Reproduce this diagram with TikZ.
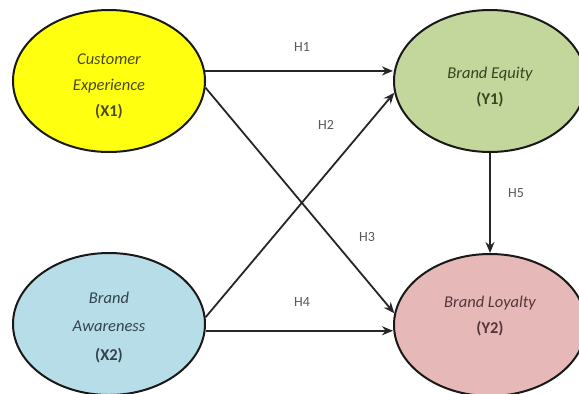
\documentclass[tikz,border=0pt]{standalone}
\usepackage{fontspec}
\setmainfont{Carlito}
\usetikzlibrary{shapes.geometric,arrows.meta}
\definecolor{xyellow}{HTML}{FFFF10}
\definecolor{ygreen}{HTML}{C3D69B}
\definecolor{xblue}{HTML}{B7DDE8}
\definecolor{ypink}{HTML}{E6B9B8}
\definecolor{tyellow}{HTML}{4A4A1E}
\definecolor{tgreen}{HTML}{35461F}
\definecolor{tblue}{HTML}{34434E}
\definecolor{tpink}{HTML}{54363A}
\begin{document}
\begin{tikzpicture}[x=1pt,y=-1pt,
  latent/.style={ellipse,draw=black!90,line width=2pt,minimum width=192pt,minimum height=142pt,
    inner sep=0pt,align=center,font=\fontsize{16.5}{26}\selectfont\itshape},
  hpath/.style={draw=black!85,line width=1.8pt,-{Stealth[length=11pt,width=9pt]}},
  hyp/.style={font=\fontsize{14}{15}\selectfont,text=black!65,inner sep=0pt}]
\useasboundingbox (0,0) rectangle (579,394);
\fill[white] (0,0) rectangle (579,394);
\node[latent,fill=xyellow,text=tyellow] (x1) at (109,81)
  {\rule{0pt}{22pt}Customer\\Experience\\\textbf{\upshape(X1)}};
\node[latent,fill=ygreen,text=tgreen] (y1) at (490,81)
  {\rule{0pt}{23pt}Brand Equity\\\textbf{\upshape(Y1)}};
\node[latent,fill=xblue,text=tblue,font=\fontsize{16.5}{28.5}\selectfont\itshape] (x2) at (109,324)
  {\rule{0pt}{18pt}Brand\\Awareness\\\textbf{\upshape(X2)}};
\node[latent,fill=ypink,text=tpink] (y2) at (490,325)
  {Brand Loyalty\\\textbf{\upshape(Y2)}\rule[-21pt]{0pt}{21pt}};
\draw[hpath] (x1.6) -- (x1.6 -| y1.west);
\draw[hpath] (x1.-4) -- (y2.173);
\draw[hpath] (x2.4) -- (y1.187);
\draw[hpath] (x2.-4) -- (x2.-4 -| y2.west);
\draw[hpath] (y1.south) -- (y2.north);
\node[hyp] (h1) at (302,47) {H1};
\node[hyp] (h2) at (326,125) {H2};
\node[hyp] (h3) at (367,237) {H3};
\node[hyp] (h4) at (302,302) {H4};
\node[hyp] (h5) at (516,193) {H5};
\end{tikzpicture}
\end{document}
